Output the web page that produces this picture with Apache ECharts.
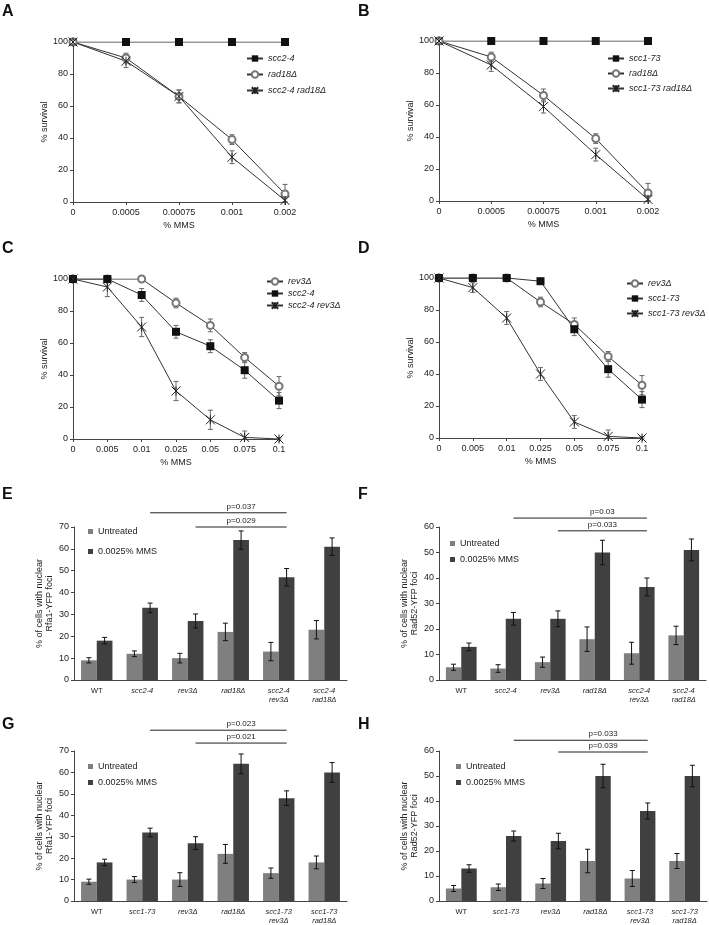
<!DOCTYPE html>
<html><head><meta charset="utf-8">
<script src="https://cdn.jsdelivr.net/npm/echarts@6/dist/echarts.min.js"></script>
<style>html,body{margin:0;padding:0;background:#fff}#c{width:709px;height:925px}</style>
</head><body><div id="c"></div>
<script>
// ---------- DATA ----------
const mmsAB = ['0','0.0005','0.00075','0.001','0.002'];
const A_scc24 = [100,100,100,100,100];
const A_rad18 = [100,90,66,39,5];
const A_rad18_err = [0,3,4,3,6];
const A_double = [100,88,66,28,1];
const A_double_err = [0,4,4,4,2];

const B_scc173 = [100,100,100,100,100];
const B_rad18 = [100,90,66,39,5];
const B_rad18_err = [0,3,4,3,6];
const B_double = [100,85,59,29,1];
const B_double_err = [0,4,4,4,2];

const mmsCD = ['0','0.005','0.01','0.025','0.05','0.075','0.1'];
const C_rev3 = [100,100,100,85,71,51,33];
const C_rev3_err = [0,0,0,3,4,3,6];
const C_scc24 = [100,100,90,67,58,43,24];
const C_scc24_err = [0,0,4,4,4,5,5];
const C_double = [100,95,70,30,12,1,0];
const C_double_err = [0,6,6,6,6,4,1];

const D_rev3 = [100,100,100,85,71,51,33];
const D_rev3_err = [0,0,0,3,4,3,6];
const D_scc173 = [100,100,100,98,68,43,24];
const D_scc173_err = [0,0,0,0,4,5,5];
const D_double = [100,94,75,40,10,1,0];
const D_double_err = [0,3,4,4,4,4,1];

const catsEF = ['WT','scc2-4','rev3Δ','rad18Δ','scc2-4\nrev3Δ','scc2-4\nrad18Δ'];
const catsGH = ['WT','scc1-73','rev3Δ','rad18Δ','scc1-73\nrev3Δ','scc1-73\nrad18Δ'];

const E_untr = [9,12,10,22,13,23];
const E_untr_err = [1.2,1.3,2.2,4,4.2,4.2];
const E_mms = [18,33,27,64,47,61];
const E_mms_err = [1.5,2.2,3.2,4.2,4,4];
const E_pLevels = [76.5,70];
const E_pTexts = ['p=0.037','p=0.029'];

const F_untr = [5,4.5,7,16,10.5,17.5];
const F_untr_err = [1.2,1.5,2,4.8,4.3,3.6];
const F_mms = [13,24,24,50,36.5,51];
const F_mms_err = [1.5,2.5,3.1,4.8,3.5,4.3];
const F_pLevels = [63.5,58.5];
const F_pTexts = ['p=0.03','p=0.033'];

const G_untr = [9,10,10,22,13,18];
const G_untr_err = [1.2,1.4,3.2,4.4,2.4,3];
const G_mms = [18,32,27,64,48,60];
const G_mms_err = [1.5,2,3,4.6,3.4,4.6];
const G_pLevels = [79.7,73.7];
const G_pTexts = ['p=0.023','p=0.021'];

const H_untr = [5,5.5,7,16,9,16];
const H_untr_err = [1.2,1.3,2,4.7,3.2,3];
const H_mms = [13,26,24,50,36,50];
const H_mms_err = [1.5,2,3.1,4.7,3.2,4.3];
const H_pLevels = [64.3,59.6];
const H_pTexts = ['p=0.033','p=0.039'];

// comparisons: [fromCategory, toCategory], label centred on labelCategory
const pFrom = [1,2];
const pTo = [4,4];
const pLabelCat = 3;

// ---------- STYLE / LAYOUT ----------
const FONT = 'Liberation Sans, Arial, sans-serif';
const TXT = '#222';
const AX = '#444';
const LINEC = '#333';
const LIGHT = '#7f7f7f';
const DARK = '#404040';
const GAP = 0.31;

const grids = [
  {left:73, top:42, width:212, height:160},
  {left:439, top:41, width:209, height:160},
  {left:73, top:279, width:206, height:160},
  {left:439, top:278, width:203, height:160},
  {left:74, top:527, width:273, height:153},
  {left:439, top:527, width:267, height:153},
  {left:74, top:751, width:273, height:152},
  {left:439, top:751, width:268, height:152}
];

const xAxes = [], yAxes = [], series = [];

function lineAxes(g, cats){
  xAxes.push({gridIndex:g, type:'category', data:cats, boundaryGap:false,
    name:'% MMS', nameLocation:'middle', nameGap:19,
    nameTextStyle:{fontSize:9, color:TXT, fontFamily:FONT},
    axisLine:{lineStyle:{color:AX}}, axisTick:{show:true, length:3, alignWithLabel:true, lineStyle:{color:AX}},
    axisLabel:{fontSize:9, color:TXT, margin:6, fontFamily:FONT}, splitLine:{show:false}});
  yAxes.push({gridIndex:g, type:'value', min:0, max:100, interval:20,
    name:'% survival', nameLocation:'middle', nameGap:22,
    nameTextStyle:{fontSize:9, color:TXT, fontFamily:FONT},
    axisLine:{show:true, lineStyle:{color:AX}}, axisTick:{show:true, length:3, lineStyle:{color:AX}},
    axisLabel:{fontSize:9, color:TXT, margin:5, fontFamily:FONT}, splitLine:{show:false}});
}
function barAxes(g, cats, max, yname){
  xAxes.push({gridIndex:g, type:'category', data:cats,
    axisLine:{lineStyle:{color:AX}}, axisTick:{show:false},
    axisLabel:{interval:0, fontSize:7.5, lineHeight:9, fontStyle:'italic', color:TXT, margin:6, fontFamily:FONT,
      formatter: v => v === 'WT' ? '{n|WT}' : v,
      rich:{n:{fontStyle:'normal', fontSize:7.5, color:TXT, fontFamily:FONT}}},
    splitLine:{show:false}});
  yAxes.push({gridIndex:g, type:'value', min:0, max:max, interval:10,
    name:yname, nameLocation:'middle', nameGap:19,
    nameTextStyle:{fontSize:9, color:TXT, lineHeight:10, fontFamily:FONT},
    axisLine:{show:true, lineStyle:{color:AX}}, axisTick:{show:true, length:3, lineStyle:{color:AX}},
    axisLabel:{fontSize:9, color:TXT, margin:5, fontFamily:FONT}, splitLine:{show:false}});
}

const STAR = 'path://M0,0L10,10M10,0L0,10M5,0L5,10';
const styles = {
  square:{symbol:'rect', symbolSize:8, itemStyle:{color:'#111', borderColor:'#111', borderWidth:0}},
  circle:{symbol:'emptyCircle', symbolSize:7, itemStyle:{color:'#777', borderColor:'#777', borderWidth:0.8}},
  star:{symbol:STAR, symbolSize:9, itemStyle:{color:'#222', borderColor:'#222', borderWidth:1}}
};

function errRender(params, api){
  const x = api.value(0), v = api.value(1), e = api.value(2);
  if (!e) return null;
  const lo = Math.max(0, v - e);
  const t = api.coord([x, v + e]), b = api.coord([x, lo]);
  const w = 2.5;
  const st = {stroke:'#666', lineWidth:1};
  return {type:'group', children:[
    {type:'line', shape:{x1:t[0], y1:t[1], x2:b[0], y2:b[1]}, style:st},
    {type:'line', shape:{x1:t[0]-w, y1:t[1], x2:t[0]+w, y2:t[1]}, style:st},
    {type:'line', shape:{x1:b[0]-w, y1:b[1], x2:b[0]+w, y2:b[1]}, style:st}
  ]};
}

function addLine(g, name, vals, errs, st){
  series.push(Object.assign({type:'line', name:name, xAxisIndex:g, yAxisIndex:g, data:vals,
    lineStyle:{color:LINEC, width:1}, z:3, animation:false}, JSON.parse(JSON.stringify(st))));
  if (errs) series.push({type:'custom', xAxisIndex:g, yAxisIndex:g, z:2, animation:false,
    data: vals.map((v,i)=>[i, v, errs[i]]), renderItem: errRender, silent:true});
}

function barErrRender(side){
  return function(params, api){
    const x = api.value(0), v = api.value(1), e = api.value(2);
    const band = api.size([1,0])[0];
    const bw = band * (1 - GAP) / 2;
    const off = side * bw / 2;
    const t = api.coord([x, v + e]), b = api.coord([x, Math.max(0, v - e)]);
    const cx = t[0] + off, w = 2.5;
    const st = {stroke:'#111', lineWidth:1};
    return {type:'group', children:[
      {type:'line', shape:{x1:cx, y1:t[1], x2:cx, y2:b[1]}, style:st},
      {type:'line', shape:{x1:cx-w, y1:t[1], x2:cx+w, y2:t[1]}, style:st},
      {type:'line', shape:{x1:cx-w, y1:b[1], x2:cx+w, y2:b[1]}, style:st}
    ]};
  };
}

function addBars(g, untr, untrErr, mms, mmsErr, pLevels, pTexts){
  series.push({type:'bar', name:'Untreated', xAxisIndex:g, yAxisIndex:g, data:untr,
    itemStyle:{color:LIGHT}, barCategoryGap:(GAP*100)+'%', barGap:'0%', animation:false});
  series.push({type:'bar', name:'0.0025% MMS', xAxisIndex:g, yAxisIndex:g, data:mms,
    itemStyle:{color:DARK}, barCategoryGap:(GAP*100)+'%', barGap:'0%', animation:false});
  series.push({type:'custom', xAxisIndex:g, yAxisIndex:g, z:5, silent:true, animation:false,
    data: untr.map((v,i)=>[i, v, untrErr[i]]), renderItem: barErrRender(-1)});
  series.push({type:'custom', xAxisIndex:g, yAxisIndex:g, z:5, silent:true, animation:false,
    data: mms.map((v,i)=>[i, v, mmsErr[i]]), renderItem: barErrRender(1)});
  series.push({type:'custom', xAxisIndex:g, yAxisIndex:g, z:5, silent:true, animation:false, clip:false,
    data: pLevels.map((lv,k)=>[pFrom[k], pTo[k], lv, pLabelCat]),
    renderItem: function(params, api){
      const band = api.size([1,0])[0];
      const bw = band * (1 - GAP) / 2;
      const lv = api.value(2);
      const a = api.coord([api.value(0), lv]), b = api.coord([api.value(1), lv]);
      const c = api.coord([api.value(3), lv]);
      return {type:'group', children:[
        {type:'line', shape:{x1:a[0]+bw/2, y1:a[1], x2:b[0]+bw/2, y2:b[1]}, style:{stroke:'#222', lineWidth:1}},
        {type:'text', x:c[0]+bw/2, y:a[1]-2, style:{text:pTexts[params.dataIndex], fontSize:8, fill:TXT,
          fontFamily:FONT, textAlign:'center', textVerticalAlign:'bottom'}}
      ]};
    }});
}

// Panels A-D
lineAxes(0, mmsAB);
addLine(0, 'scc2-4', A_scc24, null, styles.square);
addLine(0, 'rad18Δ', A_rad18, A_rad18_err, styles.circle);
addLine(0, 'scc2-4 rad18Δ', A_double, A_double_err, styles.star);

lineAxes(1, mmsAB);
addLine(1, 'scc1-73', B_scc173, null, styles.square);
addLine(1, 'rad18Δ', B_rad18, B_rad18_err, styles.circle);
addLine(1, 'scc1-73 rad18Δ', B_double, B_double_err, styles.star);

lineAxes(2, mmsCD);
addLine(2, 'rev3Δ', C_rev3, C_rev3_err, styles.circle);
addLine(2, 'scc2-4', C_scc24, C_scc24_err, styles.square);
addLine(2, 'scc2-4 rev3Δ', C_double, C_double_err, styles.star);

lineAxes(3, mmsCD);
addLine(3, 'rev3Δ', D_rev3, D_rev3_err, styles.circle);
addLine(3, 'scc1-73', D_scc173, D_scc173_err, styles.square);
addLine(3, 'scc1-73 rev3Δ', D_double, D_double_err, styles.star);

// Panels E-H
barAxes(4, catsEF, 70, '% of cells with nuclear\nRfa1-YFP foci');
addBars(4, E_untr, E_untr_err, E_mms, E_mms_err, E_pLevels, E_pTexts);
barAxes(5, catsEF, 60, '% of cells with nuclear\nRad52-YFP foci');
addBars(5, F_untr, F_untr_err, F_mms, F_mms_err, F_pLevels, F_pTexts);
barAxes(6, catsGH, 70, '% of cells with nuclear\nRfa1-YFP foci');
addBars(6, G_untr, G_untr_err, G_mms, G_mms_err, G_pLevels, G_pTexts);
barAxes(7, catsGH, 60, '% of cells with nuclear\nRad52-YFP foci');
addBars(7, H_untr, H_untr_err, H_mms, H_mms_err, H_pLevels, H_pTexts);

function lineLegend(names, left, top, gap){
  return {data:names, left:left, top:top, orient:'vertical', itemWidth:16, itemHeight:8, itemGap:gap,
    itemTextGap:4, selectedMode:false, textStyle:{fontSize:9, fontStyle:'italic', color:TXT, fontFamily:FONT}, padding:0};
}
function barLegend(left, top, gap){
  return {data:['Untreated','0.0025% MMS'], left:left, top:top, orient:'vertical', icon:'rect',
    itemWidth:5, itemHeight:5, itemGap:gap, itemTextGap:3, selectedMode:false, padding:0,
    textStyle:{fontSize:9, color:TXT, fontFamily:FONT}};
}

const letters = [['A',2,4],['B',358,4],['C',2,241],['D',358,241],['E',2,487],['F',358,487],['G',2,717],['H',358,717]];

const option = {
  backgroundColor:'#fff',
  animation:false,
  textStyle:{fontFamily:FONT},
  title: letters.map(l => ({text:l[0], left:l[1], top:l[2], padding:0,
    textStyle:{fontSize:16, fontWeight:'bold', color:'#111', fontFamily:FONT}})),
  grid: grids,
  xAxis: xAxes,
  yAxis: yAxes,
  legend: [
    lineLegend(['scc2-4','rad18Δ','scc2-4 rad18Δ'], 246, 54, 7),
    lineLegend(['scc1-73','rad18Δ','scc1-73 rad18Δ'], 607, 54, 6),
    lineLegend(['rev3Δ','scc2-4','scc2-4 rev3Δ'], 266, 277, 3),
    lineLegend(['rev3Δ','scc1-73','scc1-73 rev3Δ'], 626, 279, 6),
    barLegend(88, 527, 11),
    barLegend(450, 539, 7),
    barLegend(88, 762, 7),
    barLegend(456, 762, 7)
  ],
  series: series
};

const chart = echarts.init(document.getElementById('c'), null, {renderer:'canvas'});
chart.setOption(option);
</script>
</body></html>
